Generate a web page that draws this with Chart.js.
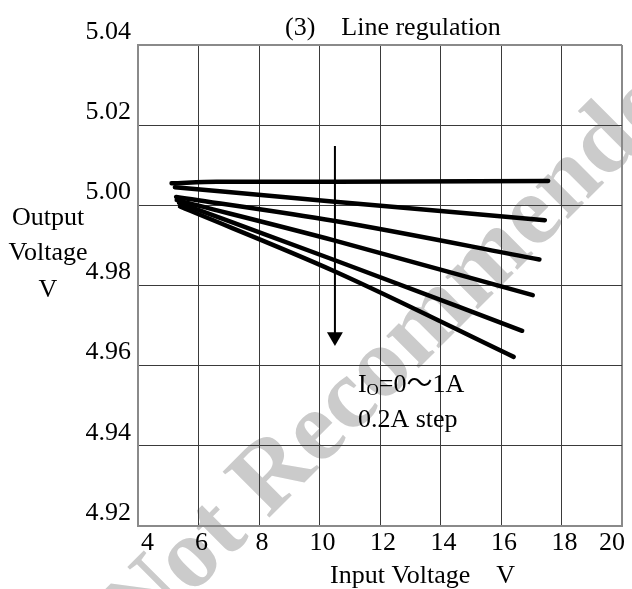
<!DOCTYPE html>
<html>
<head>
<meta charset="utf-8">
<title>Line regulation</title>
<script src="https://cdn.jsdelivr.net/npm/chart.js@4.4.1/dist/chart.umd.min.js"></script>
<style>
  html, body { margin: 0; padding: 0; background: #fff; }
  canvas { display: block; }
</style>
</head>
<body>
<canvas id="chart" width="632" height="589"></canvas>
<script>
// datos: tension de salida vs tension de entrada, Io = 0 ~ 1A en pasos de 0.2A
const loadSteps = ["0A", "0.2A", "0.4A", "0.6A", "0.8A", "1.0A"];

const vin0A = [5.11, 6.6, 10.51, 17.56];
const vout0A = [5.0055, 5.0059, 5.0059, 5.0061];

const vin02A = [5.22, 10.51, 17.45];
const vout02A = [5.0045, 5.0009, 4.9963];

const vin04A = [5.26, 10.51, 17.27];
const vout04A = [5.0021, 4.9961, 4.9865];

const vin06A = [5.28, 10.51, 17.05];
const vout06A = [5.0013, 4.9912, 4.9776];

const vin08A = [5.36, 10.51, 16.7];
const vout08A = [5.0006, 4.9863, 4.9687];

const vin10A = [5.39, 10.51, 16.42];
const vout10A = [4.9997, 4.9835, 4.9622];

// flecha "Io creciente"
const arrowX = [10.51, 10.51];
const arrowY = [5.0148, 4.9672];

const xTicks = [4, 6, 8, 10, 12, 14, 16, 18, 20];
const yTicks = [4.92, 4.94, 4.96, 4.98, 5.0, 5.02, 5.04];

const titleText = "(3)    Line regulation";
const xTitle = "Input Voltage    V";
const yTitle = ["Output", "Voltage", "V"];
const noteX = 11.27;
const noteY = [4.9534, 4.9447];
const watermarkText = "Not Recommended";

const FONT = "'Liberation Serif', 'Times New Roman', serif";

function toPoints(xs, ys) {
  return xs.map((x, i) => ({ x: x, y: ys[i] }));
}

const seriesX = [vin0A, vin02A, vin04A, vin06A, vin08A, vin10A];
const seriesY = [vout0A, vout02A, vout04A, vout06A, vout08A, vout10A];

const datasets = loadSteps.map((name, i) => ({
  label: name,
  data: toPoints(seriesX[i], seriesY[i]),
  borderColor: "#000",
  borderWidth: 4.5,
  borderCapStyle: "round",
  borderJoinStyle: "round",
  pointRadius: 0,
  cubicInterpolationMode: "monotone",
}));

datasets.push({
  label: "arrow",
  data: toPoints(arrowX, arrowY),
  borderColor: "#000",
  borderWidth: 2,
  pointRadius: [0, 9.2],
  pointStyle: "triangle",
  rotation: 180,
  pointBackgroundColor: "#000",
  pointBorderColor: "#000",
  pointBorderWidth: 0,
});

const textPlugin = {
  id: "textLabels",
  beforeDraw(chart) {
    const ctx = chart.ctx;
    ctx.save();
    ctx.translate(140, 647);
    ctx.rotate((-45 * Math.PI) / 180);
    ctx.fillStyle = "#cbcbcb";
    ctx.font = "bold 100px " + FONT;
    ctx.textBaseline = "alphabetic";
    ctx.textAlign = "left";
    ctx.fillText(watermarkText, 0, 0);
    ctx.restore();
  },
  afterDraw(chart) {
    const ctx = chart.ctx;
    const xs = chart.scales.x;
    const ys = chart.scales.y;
    ctx.save();
    ctx.fillStyle = "#000";
    ctx.textBaseline = "alphabetic";
    ctx.font = "26px " + FONT;

    // titulo
    ctx.textAlign = "left";
    ctx.fillText(titleText, 285, 35);

    // titulo eje x
    ctx.fillText(xTitle, 330, 583);

    // titulo eje y (horizontal, tres lineas)
    ctx.textAlign = "center";
    ctx.fillText(yTitle[0], 48, 225);
    ctx.fillText(yTitle[1], 48, 260);
    ctx.fillText(yTitle[2], 48, 297);

    // nota Io
    ctx.textAlign = "left";
    let px = xs.getPixelForValue(noteX);
    const py = ys.getPixelForValue(noteY[0]);
    ctx.fillText("I", px, py);
    px += ctx.measureText("I").width;
    ctx.font = "17px " + FONT;
    ctx.fillText("O", px, py + 3);
    px += ctx.measureText("O").width;
    ctx.font = "26px " + FONT + ", 'Noto Sans CJK JP'";
    ctx.fillText("=0\uFF5E1A", px, py);
    ctx.font = "26px " + FONT;
    ctx.fillText("0.2A step", xs.getPixelForValue(noteX), ys.getPixelForValue(noteY[1]));
    ctx.restore();
  },
};

const edgeColor = "#8a8a8a";
const gridColor = "#3a3a3a";

new Chart(document.getElementById("chart"), {
  type: "line",
  data: { datasets: datasets },
  options: {
    responsive: false,
    animation: false,
    layout: { autoPadding: false, padding: { top: 45, right: 10, left: 0, bottom: 0 } },
    plugins: { legend: { display: false }, title: { display: false }, tooltip: { enabled: false } },
    scales: {
      x: {
        type: "linear",
        min: 4,
        max: 20,
        afterBuildTicks: (axis) => { axis.ticks = xTicks.map((v) => ({ value: v })); },
        afterFit: (axis) => { axis.height = 63; },
        ticks: {
          color: "#000",
          font: { family: FONT, size: 26 },
          align: "inner",
          padding: 2,
          labelOffset: 3,
          maxRotation: 0,
        },
        grid: {
          drawTicks: false,
          color: (c) => (c.tick && c.tick.value === 20 ? edgeColor : gridColor),
          lineWidth: (c) => (c.tick && c.tick.value === 20 ? 2 : 1),
        },
        border: { color: edgeColor, width: 2 },
      },
      y: {
        type: "linear",
        min: 4.92,
        max: 5.04,
        afterBuildTicks: (axis) => { axis.ticks = yTicks.map((v) => ({ value: v })); },
        afterFit: (axis) => { axis.width = 138; },
        ticks: {
          color: "#000",
          font: { family: FONT, size: 26 },
          padding: 7,
          labelOffset: -13,
          callback: (v) => Number(v).toFixed(2),
        },
        grid: {
          drawTicks: false,
          color: (c) => (c.tick && c.tick.value === 5.04 ? edgeColor : gridColor),
          lineWidth: (c) => (c.tick && c.tick.value === 5.04 ? 2 : 1),
        },
        border: { color: edgeColor, width: 2 },
      },
    },
  },
  plugins: [textPlugin],
});
</script>
</body>
</html>
